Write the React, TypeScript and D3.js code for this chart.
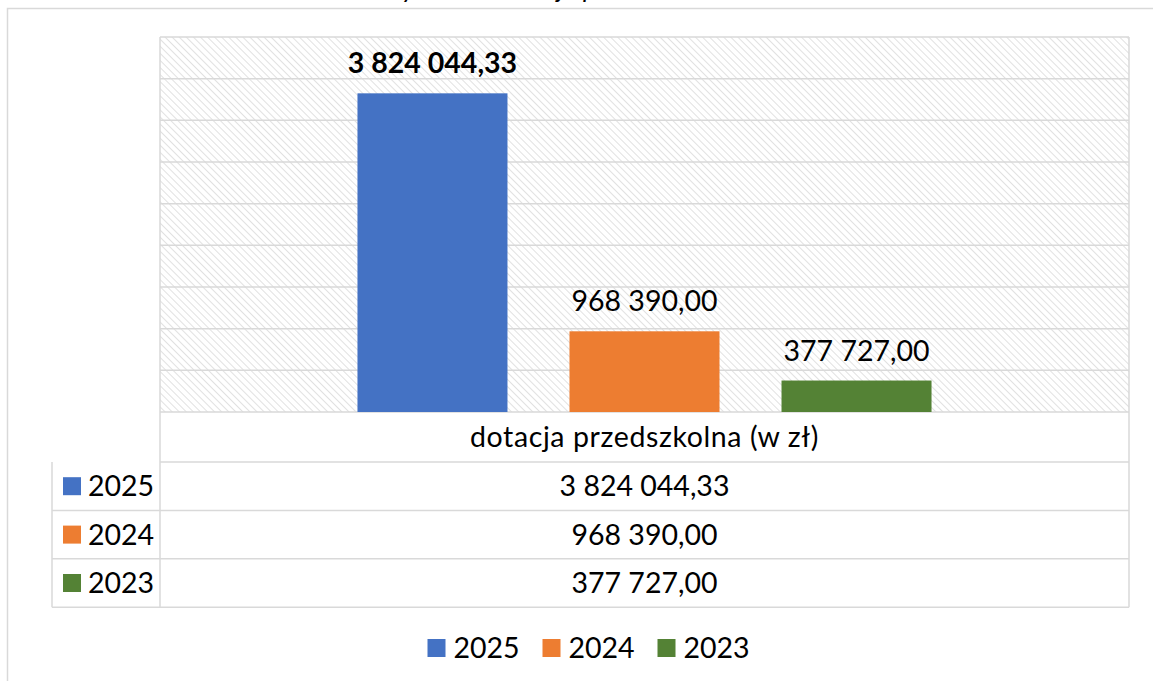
import React from 'react';
import * as d3 from 'd3';

const title = 'Wykres 1. Dotacja przedszkolna';
const categories = ['dotacja przedszkolna (w zł)'];
const years = ['2025', '2024', '2023'];
const values = [3824044.33, 968390.0, 377727.0];
const colors = ['#4472C4', '#ED7D31', '#548235'];
const boldLabel = [true, false, false];
const yMax = 4500000;
const yStep = 500000;

const W = 1153;
const H = 681;
const FONT = 'Lato, Calibri, sans-serif';
const GRID = '#d9d9d9';
const FS = 28.5;

// polski format: spacja jako separator tysięcy, przecinek dziesiętny
const pl = d3.formatLocale({
  decimal: ',',
  thousands: ' ',
  grouping: [3],
  currency: ['', ' zł'],
});
const fmt = pl.format(',.2f');

export default function App() {
  const plot = { left: 160, right: 1129, top: 37, bottom: 412 };
  const tableLeft = 52;
  const headerBottom = 462;
  const rowH = 48.4;

  const y = d3.scaleLinear([0, yMax], [plot.bottom, plot.top]);
  const ticks = d3.range(0, yMax + 1, yStep);

  const xCat = d3
    .scaleBand<string>()
    .domain(categories)
    .range([plot.left, plot.right])
    .paddingInner(0)
    .paddingOuter(0.344);
  const xYear = d3
    .scaleBand<string>()
    .domain(years)
    .range([0, xCat.bandwidth()])
    .paddingInner(0.2925);

  const cx = (plot.left + plot.right) / 2;

  // legenda na dole
  const legendItemW = [115, 115, 115];
  const legendTotal = d3.sum(legendItemW) - 28;
  const legendStart = 586 - legendTotal / 2;

  return (
    <svg
      width={W}
      height={H}
      style={{ position: 'absolute', left: 0, top: 0, background: '#fff' }}
      fontFamily={FONT}
    >
      <defs>
        <pattern
          id="hatch"
          width={5}
          height={5}
          patternUnits="userSpaceOnUse"
          patternTransform="rotate(-45)"
        >
          <rect width={5} height={5} fill="#fff" />
          <line x1={0} y1={0} x2={0} y2={5} stroke="#d4d4d4" strokeWidth={1.4} />
        </pattern>
      </defs>

      {/* tytuł (ucięty u góry, jak w oryginale) */}
      <text x={378} y={-2} fontSize={26} fontStyle="italic" fill="#000">
        {title}
      </text>

      {/* ramka wykresu */}
      <rect x={7.5} y={8.5} width={W + 20} height={H + 20} fill="none" stroke={GRID} strokeWidth={1.5} />

      {/* obszar kreślenia */}
      <rect
        x={plot.left}
        y={plot.top}
        width={plot.right - plot.left}
        height={plot.bottom - plot.top}
        fill="url(#hatch)"
      />
      {ticks.map((t) => (
        <line
          key={t}
          x1={plot.left}
          x2={plot.right}
          y1={y(t)}
          y2={y(t)}
          stroke={GRID}
          strokeWidth={1.5}
        />
      ))}
      <line x1={plot.left} x2={plot.left} y1={plot.top} y2={plot.bottom} stroke={GRID} strokeWidth={1.5} />
      <line x1={plot.right} x2={plot.right} y1={plot.top} y2={plot.bottom} stroke={GRID} strokeWidth={1.5} />

      {/* słupki */}
      {categories.map((c) =>
        years.map((yr, i) => {
          const x0 = (xCat(c) ?? 0) + (xYear(yr) ?? 0);
          const bw = xYear.bandwidth();
          return (
            <g key={c + yr}>
              <rect x={x0} y={y(values[i])} width={bw} height={plot.bottom - y(values[i])} fill={colors[i]} />
              <text
                x={x0 + bw / 2}
                y={y(values[i]) - 20}
                textAnchor="middle"
                fontSize={FS}
                fontWeight={boldLabel[i] ? 'bold' : 'normal'}
                fill="#000"
              >
                {fmt(values[i])}
              </text>
            </g>
          );
        }),
      )}

      {/* tabela danych */}
      <g stroke={GRID} strokeWidth={1.5} fill="none">
        <line x1={plot.left} x2={plot.right} y1={headerBottom} y2={headerBottom} />
        <line x1={plot.left} x2={plot.left} y1={plot.bottom} y2={headerBottom + rowH * years.length} />
        <line x1={plot.right} x2={plot.right} y1={plot.bottom} y2={headerBottom + rowH * years.length} />
        <line x1={tableLeft} x2={tableLeft} y1={headerBottom} y2={headerBottom + rowH * years.length} />
        {years.map((yr, i) => (
          <line
            key={yr}
            x1={tableLeft}
            x2={plot.right}
            y1={headerBottom + rowH * (i + 1)}
            y2={headerBottom + rowH * (i + 1)}
          />
        ))}
      </g>
      {categories.map((c) => (
        <text
          key={c}
          x={cx}
          y={(plot.bottom + headerBottom) / 2 + 10}
          textAnchor="middle"
          fontSize={FS}
          letterSpacing={0.6}
          fill="#000"
        >
          {c}
        </text>
      ))}
      {years.map((yr, i) => {
        const mid = headerBottom + rowH * i + rowH / 2;
        return (
          <g key={yr}>
            <rect x={63} y={mid - 9} width={18} height={18} fill={colors[i]} />
            <text x={88} y={mid + 10} fontSize={FS} fill="#000">
              {yr}
            </text>
            <text x={cx} y={mid + 10} textAnchor="middle" fontSize={FS} fill="#000">
              {fmt(values[i])}
            </text>
          </g>
        );
      })}

      {/* legenda */}
      {years.map((yr, i) => {
        const lx = legendStart + d3.sum(legendItemW.slice(0, i));
        return (
          <g key={yr}>
            <rect x={lx} y={639} width={18} height={18} fill={colors[i]} />
            <text x={lx + 26} y={658} fontSize={FS} fill="#000">
              {yr}
            </text>
          </g>
        );
      })}
    </svg>
  );
}
